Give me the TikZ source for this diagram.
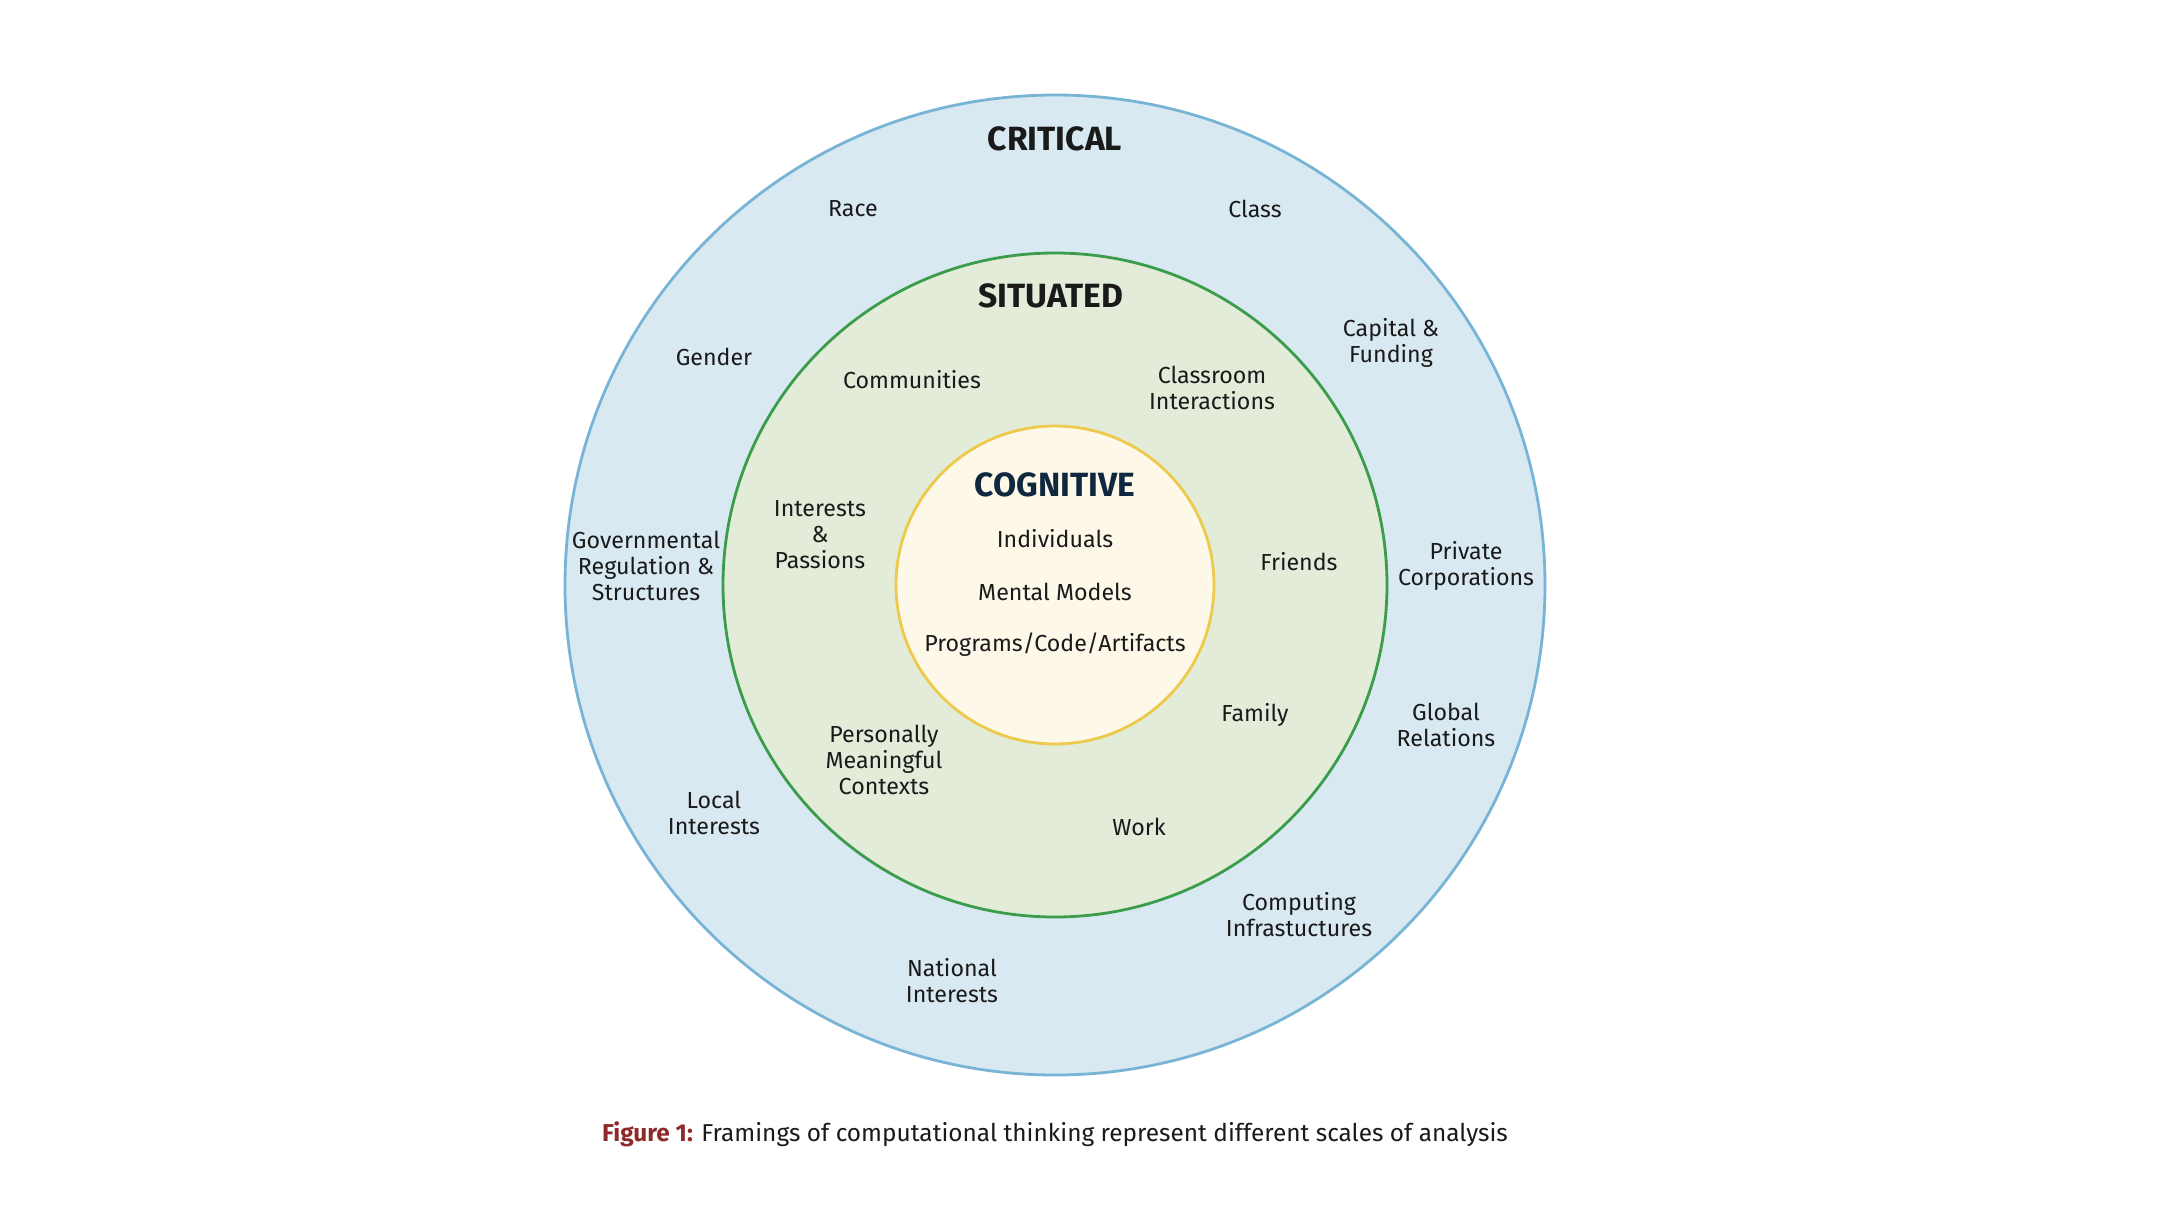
\documentclass[tikz,border=0pt]{standalone}
\usepackage{fontspec}
\setmainfont{Fira Sans}
\definecolor{outerfill}{HTML}{D9E9F1}
\definecolor{outerline}{HTML}{78B4D6}
\definecolor{midfill}{HTML}{E2ECD9}
\definecolor{midline}{HTML}{3B9C4C}
\definecolor{innerfill}{HTML}{FEF8E9}
\definecolor{innerline}{HTML}{EDC94C}
\definecolor{navy}{HTML}{10283F}
\definecolor{capred}{HTML}{8E2A2A}
\definecolor{txt}{HTML}{1A1A1A}
\begin{document}
\begin{tikzpicture}[x=0.5pt,y=-0.5pt,
  lbl/.style={align=center,font=\fontsize{11.6}{13}\selectfont,text=txt,inner sep=0pt},
  head/.style={font=\fontsize{16.8}{19}\selectfont\bfseries,text=txt,inner sep=0pt},
  ring/.style={draw,line width=1.4pt}]
\useasboundingbox (0,0) rectangle (2160,1215);
\fill[white] (0,0) rectangle (2160,1215);
\coordinate (c) at (1055,585);
\draw[ring,draw=outerline,fill=outerfill] (c) circle[radius=490];
\draw[ring,draw=midline,fill=midfill] (c) circle[radius=332];
\draw[ring,draw=innerline,fill=innerfill] (c) circle[radius=159];
\node[head] (critical) at (1055,139) {CRITICAL};
\node[head] (situated) at (1051,296) {SITUATED};
\node[head,text=navy] (cognitive) at (1055,485) {COGNITIVE};
\node[lbl] (race) at (853,209) {Race};
\node[lbl] (class) at (1255,209) {Class};
\node[lbl] (gender) at (714,357) {Gender};
\node[lbl] (capital) at (1391,343) {Capital \&\\Funding};
\node[lbl] (gov) at (646,566) {Governmental\\Regulation \&\\Structures};
\node[lbl] (private) at (1466,566) {Private\\Corporations};
\node[lbl] (global) at (1446,725) {Global\\Relations};
\node[lbl] (local) at (714,813) {Local\\Interests};
\node[lbl] (computing) at (1299,915) {Computing\\Infrastuctures};
\node[lbl] (national) at (952,981) {National\\Interests};
\node[lbl] (communities) at (912,380) {Communities};
\node[lbl] (classroom) at (1212,388) {Classroom\\Interactions};
\node[lbl] (interests) at (820,535) {Interests\\\&\\Passions};
\node[lbl] (friends) at (1299,562) {Friends};
\node[lbl] (family) at (1255,715) {Family};
\node[lbl] (personal) at (884,760) {Personally\\Meaningful\\Contexts};
\node[lbl] (work) at (1139,827) {Work};
\node[lbl] (individuals) at (1055,539) {Individuals};
\node[lbl] (mental) at (1055,592) {Mental Models};
\node[lbl] (programs) at (1055,645) {Programs/Code/Artifacts};
\node[lbl,font=\fontsize{12.2}{14}\selectfont] (caption) at (1055,1134) {\textcolor{capred}{\bfseries Figure 1:} Framings of computational thinking represent different scales of analysis};
\end{tikzpicture}
\end{document}
